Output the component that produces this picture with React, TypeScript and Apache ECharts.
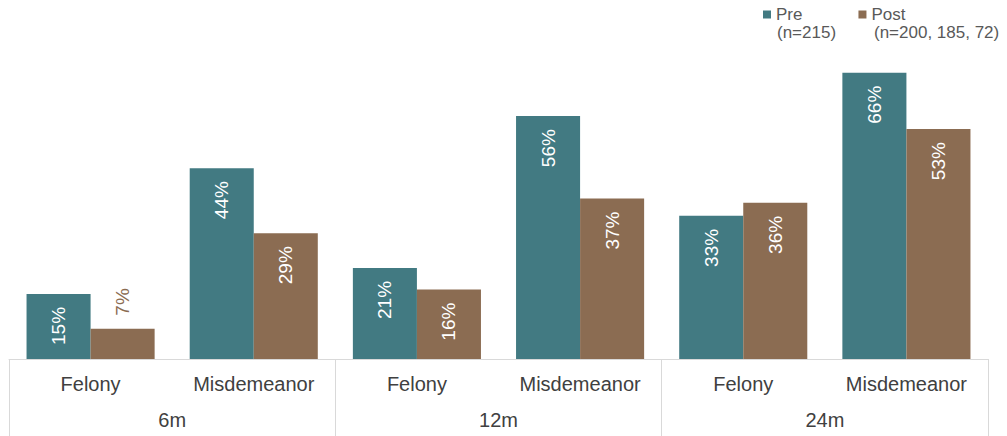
import React, { useEffect, useRef } from "react";
import * as echarts from "echarts";

const crimeTypes = ["Felony", "Misdemeanor", "Felony", "Misdemeanor", "Felony", "Misdemeanor"];
const periods = ["6m", "12m", "24m"];
const preValues = [15, 44, 21, 56, 33, 66];
const postValues = [7, 29, 16, 37, 36, 53];
const seriesNames = ["Pre", "Post"];
const sampleSizes = ["(n=215)", "(n=200, 185, 72)"];

const TEAL = "#427A82";
const BROWN = "#8B6C52";
const FONT = "'Liberation Sans', Arial, sans-serif";

function buildData(values: number[], color: string) {
  return values.map((v) =>
    v < 10
      ? {
          value: v,
          label: { position: "top", align: "left", verticalAlign: "middle", color },
        }
      : v
  );
}

export default function App() {
  const ref = useRef<HTMLDivElement>(null);
  useEffect(() => {
    if (!ref.current) return;
    const chart = echarts.init(ref.current, undefined, { renderer: "svg" });
    const labelCfg = {
      show: true,
      position: "insideTop",
      distance: 13,
      rotate: 90,
      align: "right",
      verticalAlign: "middle",
      color: "#ffffff",
      fontSize: 19,
      fontFamily: FONT,
      formatter: "{c}%",
    };
    const legendTextX = [777, 874];
    chart.setOption({
      animation: false,
      textStyle: { fontFamily: FONT },
      legend: {
        left: 763,
        top: 6,
        padding: 0,
        icon: "rect",
        itemWidth: 8,
        itemHeight: 8,
        itemGap: 56,
        itemStyle: { borderWidth: 0 },
        selectedMode: false,
        textStyle: {
          fontSize: 17,
          color: "#595959",
          fontFamily: FONT,
        },
        data: seriesNames,
      },
      graphic: sampleSizes.map((t, i) => ({
        type: "text",
        left: legendTextX[i],
        top: 24,
        style: {
          text: t,
          fontSize: 17,
          fill: "#595959",
          fontFamily: FONT,
        },
      })),
      grid: { left: 9, right: 19, top: 12, bottom: 77 },
      xAxis: [
        {
          type: "category",
          data: crimeTypes,
          position: "bottom",
          axisLine: { show: true, lineStyle: { color: "#D9D9D9", width: 1 } },
          axisTick: { show: false },
          axisLabel: { color: "#404040", fontSize: 20, margin: 15, fontFamily: FONT, interval: 0 },
        },
        {
          type: "category",
          data: periods,
          position: "bottom",
          axisLine: { show: false },
          axisTick: { show: true, length: 77, lineStyle: { color: "#D9D9D9", width: 1 } },
          axisLabel: { color: "#404040", fontSize: 20, margin: 51, fontFamily: FONT, interval: 0 },
        },
      ],
      yAxis: {
        type: "value",
        min: 0,
        max: 80,
        show: false,
        splitLine: { show: false },
      },
      series: [
        {
          name: seriesNames[0],
          type: "bar",
          xAxisIndex: 0,
          barGap: "0%",
          barCategoryGap: "21.5%",
          itemStyle: { color: TEAL },
          label: labelCfg,
          data: buildData(preValues, TEAL),
        },
        {
          name: seriesNames[1],
          type: "bar",
          xAxisIndex: 0,
          barGap: "0%",
          barCategoryGap: "21.5%",
          itemStyle: { color: BROWN },
          label: labelCfg,
          data: buildData(postValues, BROWN),
        },
      ],
    });
    return () => chart.dispose();
  }, []);
  return (
    <div
      ref={ref}
      style={{ position: "absolute", left: 0, top: 0, width: 1007, height: 436, background: "#fff" }}
    />
  );
}
